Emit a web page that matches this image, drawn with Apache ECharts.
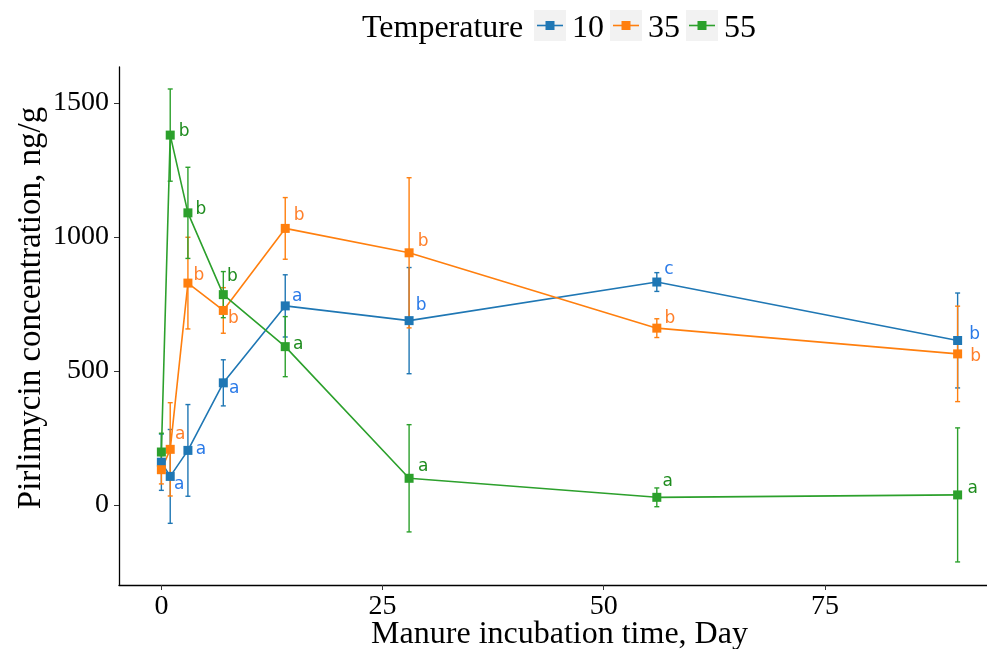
<!DOCTYPE html>
<html>
<head>
<meta charset="utf-8">
<script src="https://cdn.jsdelivr.net/npm/echarts@6/dist/echarts.min.js"></script>
<style>
  html, body {margin: 0; padding: 0; background: #fff;}
  #chart {width: 987px; height: 649px;}
</style>
</head>
<body>
<div id="chart"></div>
<script>
// sampling days
var days = [0, 1, 3, 7, 14, 28, 56, 90];
var temps = ['10', '35', '55'];

// mean concentration, ng/g
var mean10 = [160, 107, 204, 456, 743, 688, 832, 614];
var mean35 = [132, 208, 828, 726, 1032, 941, 660, 564];
var mean55 = [198, 1380, 1090, 785, 591, 100, 29, 38];

// error bar half widths
var err10 = [105, 175, 171, 86, 116, 198, 35, 177];
var err35 = [53, 174, 171, 85, 115, 280, 35, 178];
var err55 = [70, 172, 170, 86, 112, 200, 35, 250];

// significance letters ('' = no letter)
var letters10 = ['', 'a', 'a', 'a', 'a', 'b', 'c', 'b'];
var letters35 = ['', 'a', 'b', 'b', 'b', 'b', 'b', 'b'];
var letters55 = ['', 'b', 'b', 'b', 'a', 'a', 'a', 'a'];

var xTicks = [0, 25, 50, 75];
var yTicks = [0, 500, 1000, 1500];

// label nudges (px) so the letters sit like in the original
var nudge10 = [[0, 0], [9, 8], [13, -1], [11, 6], [12, -9], [12, -15], [12, -12], [17, -6]];
var nudge35 = [[0, 0], [10, -15], [11, -8], [10, 8], [14, -13], [14, -11], [13, -10], [18, 3]];
var nudge55 = [[0, 0], [14, -4], [13, -3], [9, -18], [13, -2], [14, -12], [11, -16], [15, -6]];

var lineColors = ['#1f77b4', '#ff7f0e', '#2ca02c'];
var textColors = ['#2a7ae8', '#ff7f2a', '#1e8c1e'];
var serif = '"Liberation Serif", "Times New Roman", serif';

var means = [mean10, mean35, mean55];
var errs = [err10, err35, err55];
var letters = [letters10, letters35, letters55];
var nudges = [nudge10, nudge35, nudge55];

var series = [];

// error bars first, like geom_errorbar
temps.forEach(function (t, k) {
  series.push({
    name: t,
    type: 'custom',
    z: 1,
    data: days.map(function (d, i) {
      return [d, means[k][i] - errs[k][i], means[k][i] + errs[k][i]];
    }),
    renderItem: function (params, api) {
      var top = api.coord([api.value(0), api.value(2)]);
      var bot = api.coord([api.value(0), api.value(1)]);
      var w = 2.5;
      var st = {stroke: lineColors[k], lineWidth: 1.4};
      return {
        type: 'group',
        children: [
          {type: 'line', shape: {x1: top[0], y1: top[1], x2: bot[0], y2: bot[1]}, style: st},
          {type: 'line', shape: {x1: top[0] - w, y1: top[1], x2: top[0] + w, y2: top[1]}, style: st},
          {type: 'line', shape: {x1: bot[0] - w, y1: bot[1], x2: bot[0] + w, y2: bot[1]}, style: st}
        ]
      };
    }
  });
});

temps.forEach(function (t, k) {
  series.push({
    name: t,
    type: 'line',
    z: 2,
    symbol: 'rect',
    symbolSize: 9,
    itemStyle: {color: lineColors[k]},
    lineStyle: {color: lineColors[k], width: 1.6},
    emphasis: {disabled: true},
    data: days.map(function (d, i) {
      return {
        value: [d, means[k][i]],
        label: {
          show: letters[k][i] !== '',
          position: 'inside',
          offset: nudges[k][i],
          formatter: letters[k][i],
          color: textColors[k],
          fontFamily: '"DejaVu Sans", Verdana, sans-serif',
          fontSize: 17
        }
      };
    })
  });
});

// legend drawn by hand: grey key boxes like ggplot
var legendItems = [];
legendItems.push({
  type: 'text', left: 362, top: 13,
  style: {text: 'Temperature', font: '32px ' + serif, fill: '#000'}
});
var keyX = [534, 610, 686];
temps.forEach(function (t, k) {
  var x0 = keyX[k];
  legendItems.push({type: 'rect', shape: {x: x0, y: 10, width: 32, height: 31}, style: {fill: '#f2f2f2'}});
  legendItems.push({type: 'line', shape: {x1: x0 + 3, y1: 25.5, x2: x0 + 29, y2: 25.5}, style: {stroke: lineColors[k], lineWidth: 1.6}});
  legendItems.push({type: 'rect', shape: {x: x0 + 11.5, y: 21, width: 9, height: 9}, style: {fill: lineColors[k]}});
  legendItems.push({
    type: 'text', left: x0 + 38, top: 13,
    style: {text: t, font: '32px ' + serif, fill: '#000'}
  });
});

var myChart = echarts.init(document.getElementById('chart'));
myChart.setOption({
  animation: false,
  backgroundColor: '#fff',
  grid: {left: 119, top: 67, width: 881, height: 518, containLabel: false, outerBoundsMode: 'none'},
  xAxis: {
    type: 'value',
    min: -4.79,
    max: 94.79,
    name: 'Manure incubation time, Day',
    nameLocation: 'middle',
    nameGap: 34,
    nameMoveOverlap: false,
    nameTextStyle: {fontFamily: serif, fontSize: 32, color: '#000'},
    axisLine: {show: true, onZero: false, lineStyle: {color: '#000', width: 1.3}},
    axisTick: {show: true, length: 5, customValues: xTicks, lineStyle: {color: '#333', width: 1}},
    axisLabel: {customValues: xTicks, fontFamily: serif, fontSize: 28, color: '#000', margin: 8},
    splitLine: {show: false}
  },
  yAxis: {
    type: 'value',
    min: -298,
    max: 1634,
    name: 'Pirlimycin concentration, ng/g',
    nameLocation: 'middle',
    nameGap: 71,
    nameMoveOverlap: false,
    nameTextStyle: {fontFamily: serif, fontSize: 33, color: '#000', padding: [0, 0, 0, 36]},
    axisLine: {show: true, onZero: false, lineStyle: {color: '#000', width: 1.3}},
    axisTick: {show: true, length: 5, customValues: yTicks, lineStyle: {color: '#333', width: 1}},
    axisLabel: {
      customValues: yTicks, fontFamily: serif, fontSize: 28, color: '#000', margin: 10,
      formatter: function (v) { return String(v); }
    },
    splitLine: {show: false}
  },
  graphic: legendItems,
  series: series
});
</script>
</body>
</html>
